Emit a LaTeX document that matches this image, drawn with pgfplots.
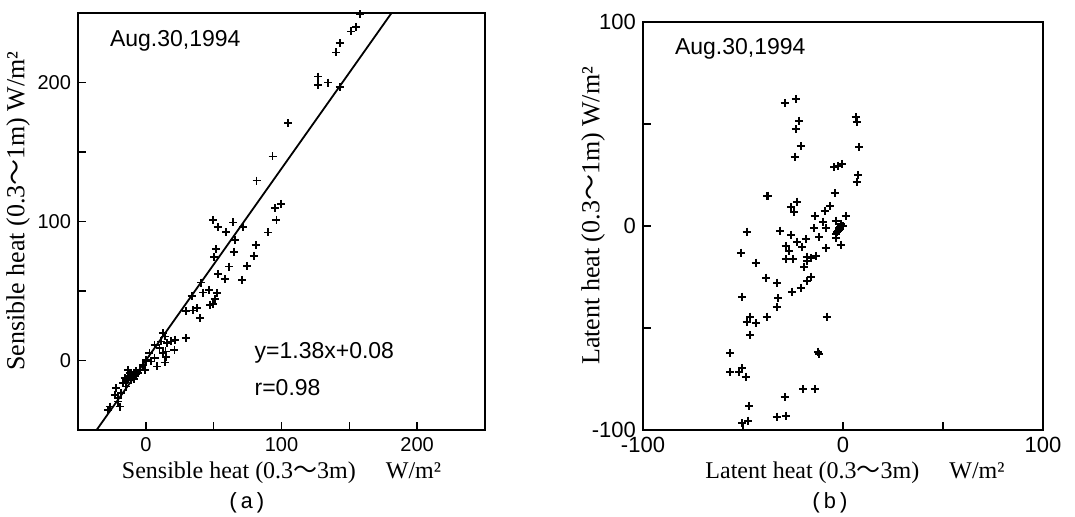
\documentclass[border=0pt]{standalone}
\usepackage{fontspec}
\setmainfont{Liberation Serif}
\setsansfont{Liberation Sans}
\newfontfamily\cjk{Noto Sans CJK JP}
\newfontfamily\capfont{Liberation Mono}
\usepackage{pgfplots}
\pgfplotsset{compat=1.18}

\pgfplotsset{
  panel/.style={
    scale only axis,
    axis line style={line width=0.9pt},
    every tick/.style={line width=0.8pt, black},
    major tick length=4pt, minor tick length=4pt,
    tick align=inside,
    xtick pos=left, ytick pos=left,
    /pgf/number format/assume math mode=true,
    xlabel style={font=\fontsize{12}{14}\selectfont},
    ylabel style={font=\fontsize{13}{15}\selectfont},
    clip=false,
  },
  pts/.style={only marks, mark=+, mark size=2pt, line width=0.95pt, black},
}

\begin{document}
\begin{tikzpicture}
\path[use as bounding box] (0,0) rectangle (537.5pt,258pt);

% (a) sensible heat
\begin{axis}[panel,
  at={(39pt,43pt)}, anchor=south west,
  width=203.5pt, height=208.5pt,
  xmin=-50, xmax=250, ymin=-50, ymax=250,
  xtick={0,100,200}, minor xtick={50,150},
  ytick={0,100,200}, minor ytick={50,150},
  ticklabel style={font=\sffamily\fontsize{10}{12}\selectfont},
  xlabel={Sensible heat (0.3{\cjk 〜}3m)\quad\ W/m²},
  ylabel={Sensible heat (0.3{\cjk 〜}1m) W/m²},
  xlabel style={at={(axis description cs:0.5,-0.103)}, anchor=center},
  ylabel style={at={(axis description cs:-0.147,0.525)}, anchor=center},
]
\addplot[pts] coordinates {
 (158,249) (155,240) (151.5,236.7) (142.9,228.3) (140.4,221.6)
 (127.0,204.3) (127.0,198.3) (134.3,200.0) (142.9,196.6)
 (104.9,170.7) (93.4,146.8) (81.6,129.5)
 (99.5,112.7) (95.1,109.6) (96.3,101.2) (90.2,92.1)
 (49.8,101.2) (53.0,95.9) (64.5,99.3) (59.1,92.3) (71.8,95.9)
 (65.4,86.8) (64.7,78.2) (51.7,80.1) (50.5,74.3)
 (80.9,83.0) (79.7,75.3) (74.8,68.1) (61.5,67.6)
 (53.2,62.4) (58.3,58.5) (71.1,58.0)
 (40.9,56.1) (42.0,48.9) (46.8,50.8) (52.2,48.4)
 (33.8,46.5) (37.5,37.6) (34.6,36.0) (29.7,35.3)
 (49.8,40.8) (47.3,40.0) (50.7,44.1) (40.0,30.5)
 (29.5,16.1) (21.5,14.9) (18.7,13.7) (15.7,12.5)
 (12.5,19.7) (13.8,17.3) (11.3,13.7) (21.1,7.7)
 (6.4,11.3) (10.1,8.9) (14.5,6.5) (12.5,5.3)
 (2.7,5.3) (15.0,2.4) (13.8,-1.4) (8.1,-4.3)
 (0.3,0.5) (4.0,-0.7) (6.4,1.7) (-2.2,-3.1) (-0.9,-6.7)
 (-13.2,-6.7) (-7.1,-7.9) (-4.6,-6.7) (-15.6,-12.7) (-10.7,-13.9)
 (-8.3,-11.5) (-12,-11) (-11,-10) (-9,-9) (-10,-12) (-13,-13)
 (-14,-14) (-9,-13) (-7,-10) (-6,-9) (-12,-9) (-11,-12.5) (-10,-10.5)
 (-16.9,-16.3) (-14.4,-18.7) (-21.8,-19.9) (-23.0,-24.7)
 (-20.5,-27.1) (-18.1,-23.5) (-26.7,-33.1) (-19.3,-33.1)
 (-20.5,-29.5) (-27.9,-35.5)
};
\addplot[black, line width=0.9pt] coordinates {(-36.29,-50) (181.1,250)};
\node[anchor=west, font=\sffamily\fontsize{11.5}{13}\selectfont] at (axis cs:-31.6,230) {Aug.30,1994};
\node[anchor=west, font=\sffamily\fontsize{11.5}{13}\selectfont] at (axis cs:75,5.8) {y=1.38x+0.08};
\node[anchor=west, font=\sffamily\fontsize{11.5}{13}\selectfont] at (axis cs:75,-19.5) {r=0.98};
\node[font=\capfont\fontsize{11}{13}\selectfont] at (axis description cs:0.415,-0.175) {(a)};
\end{axis}

% (b) latent heat
\begin{axis}[panel,
  at={(321.5pt,43pt)}, anchor=south west,
  width=200pt, height=204pt,
  xmin=-100, xmax=100, ymin=-100, ymax=100,
  xtick={-100,0,100}, minor xtick={-50,50},
  ytick={-100,0,100}, minor ytick={-50,50},
  ticklabel style={font=\sffamily\fontsize{11}{13}\selectfont},
  xlabel={Latent heat (0.3{\cjk 〜}3m)\quad\ W/m²},
  ylabel={Latent heat (0.3{\cjk 〜}1m) W/m²},
  xlabel style={at={(axis description cs:0.53,-0.105)}, anchor=center},
  ylabel style={at={(axis description cs:-0.125,0.525)}, anchor=center},
]
\addplot[pts] coordinates {
 (-29.2,60.1) (-23.7,62.3) (-22.0,51.6) (-23.7,47.4) (-21.2,39.2) (-24.2,34.0)
 (6.3,53.3) (6.8,51.1) (8.0,38.6) (7.5,25.0) (6.8,21.7)
 (-4.5,28.8) (-2.3,29.6) (-0.7,30.4)
 (-37.8,14.7) (-37.6,14.9)
 (-22.8,11.9) (-25.8,9.2) (-24.5,7.0)
 (-4.2,16.0) (-6.5,9.8) (-9.2,7.5) (-14.2,4.9) (1.3,4.9)
 (-10.0,2.1) (-14.5,-1.1) (-8.7,-1.1) (-3.7,2.6)
 (-3,-3) (-2,-1) (-1,0) (-2,-2) (-1.5,-0.5) (-3.5,-4) (-2.5,-2.5) (-1,1) (0,0)
 (-3.3,-6.0) (-1.2,-9.3) (-11.8,-5.6) (-8.7,-10.9)
 (-48.2,-2.8) (-31.5,-2.3) (-25.8,-4.4) (-22.8,-7.7) (-18.7,-6.5)
 (-20.3,-10.1) (-28.7,-9.8) (-27.0,-12.1) (-28.7,-16.3) (-25.2,-16.3)
 (-18.2,-15.0) (-16.2,-15.8) (-13.7,-14.7) (-17.8,-17.0) (-19.5,-19.9)
 (-50.8,-13.1) (-43.7,-18.0) (-38.3,-25.3) (-32.8,-27.8)
 (-16.2,-24.8) (-17.8,-27.0) (-21.2,-30.6) (-25.3,-32.2)
 (-50.3,-34.6) (-32.3,-35.5) (-33.2,-39.9) (-38.2,-44.4)
 (-46.5,-44.4) (-48.2,-46.9) (-43.7,-47.7) (-46.5,-53.4) (-8.2,-44.4)
 (-56.5,-62.4) (-12.5,-61.6) (-12.2,-62.6)
 (-56.5,-71.4) (-52.0,-71.4) (-50.3,-69.8) (-48.7,-73.9)
 (-19.8,-80.1) (-14.2,-80.1) (-29.2,-84.0) (-47.0,-88.2)
 (-33.2,-93.5) (-28.7,-93.1) (-50.3,-96.7) (-47.5,-95.4)
};
\node[anchor=west, font=\sffamily\fontsize{11.5}{13}\selectfont] at (axis cs:-87.5,87) {Aug.30,1994};
\node[font=\capfont\fontsize{11}{13}\selectfont] at (axis description cs:0.4675,-0.179) {(b)};
\end{axis}
\end{tikzpicture}
\end{document}
